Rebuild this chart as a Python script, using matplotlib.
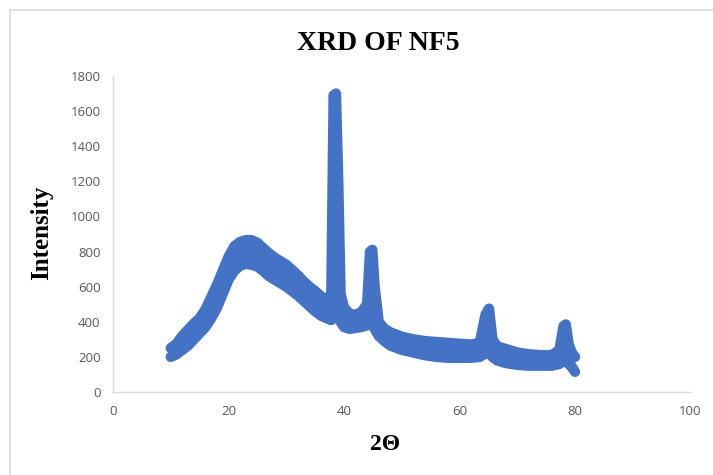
import matplotlib
matplotlib.use("Agg")
import matplotlib.pyplot as plt
from matplotlib.lines import Line2D
import numpy as np

# 2-theta scan (deg) with upper / lower edge of the noisy intensity trace
two_theta = [10, 11, 12, 13, 14, 15, 16, 17, 18, 19, 20, 21, 22, 23, 24, 25,
             26, 27, 28, 29, 30, 31, 32, 33, 34, 35, 36, 37, 37.8, 38.2, 38.6,
             39.0, 39.4, 40, 41, 42, 43, 44, 44.5, 44.9, 45.3, 46, 47, 48, 50,
             52, 54, 56, 58, 60, 62, 63.5, 64.5, 65.1, 65.7, 66.5, 68, 70, 72,
             74, 76, 77.3, 78, 78.4, 78.9, 79.5, 80]
intensity_high = [250, 275, 320, 355, 390, 420, 470, 540, 610, 690, 770, 830,
                  855, 865, 865, 850, 820, 790, 765, 745, 725, 695, 665, 630,
                  600, 575, 545, 525, 560, 1690, 1700, 1200, 560, 480, 445, 440,
                  455, 500, 800, 810, 600, 400, 360, 340, 315, 300, 290, 285,
                  280, 275, 270, 280, 440, 475, 300, 260, 245, 225, 215, 210,
                  210, 240, 375, 385, 270, 220, 200]
intensity_low = [200, 215, 240, 265, 300, 335, 370, 420, 480, 560, 640, 690,
                 720, 730, 725, 715, 690, 660, 640, 620, 600, 575, 550, 520,
                 490, 460, 435, 420, 410, 430, 470, 440, 400, 370, 360, 365,
                 370, 380, 420, 420, 360, 320, 290, 265, 240, 225, 210, 200,
                 195, 195, 195, 200, 220, 230, 200, 180, 165, 155, 150, 150,
                 150, 160, 180, 190, 160, 140, 115]

x_ticks = [0, 20, 40, 60, 80, 100]
y_ticks = [0, 200, 400, 600, 800, 1000, 1200, 1400, 1600, 1800]

blue = "#4472C4"
grey_txt = "#595959"
grey_line = "#D9D9D9"

fig = plt.figure(figsize=(7.13, 4.75), dpi=100)
ax = fig.add_axes([0.1585, 0.1747, 0.81, 0.6653])

# thick markers in the original make the trace look like a fat band
ax.fill_between(two_theta, intensity_low, intensity_high, color=blue, lw=0)
for series in (intensity_high, intensity_low):
    ax.plot(two_theta, series, color=blue, lw=7.5,
            solid_capstyle="round", solid_joinstyle="round")

ax.set_xlim(0, 100)
ax.set_ylim(0, 1800)
ax.set_xticks(x_ticks)
ax.set_yticks(y_ticks)
ax.tick_params(length=0, labelsize=9.5, labelcolor=grey_txt, pad=9)
for lab in ax.get_xticklabels() + ax.get_yticklabels():
    lab.set_family("Open Sans")

for side in ("top", "right"):
    ax.spines[side].set_visible(False)
for side in ("left", "bottom"):
    ax.spines[side].set_color(grey_line)
    ax.spines[side].set_linewidth(1.0)

serif = {"family": "Liberation Serif", "weight": "bold", "color": "black"}
fig.text(378 / 713, 1 - 44 / 475, "XRD OF NF5", fontsize=20,
         ha="center", va="center", **serif)
fig.text(42 / 713, 1 - 233 / 475, "Intensity", fontsize=18, rotation=90,
         ha="center", va="center", **serif)
fig.text(385 / 713, 1 - 445 / 475, "2Θ", fontsize=17,
         ha="center", va="center", **serif)

# chart frame border
fig.add_artist(Line2D([10 / 713, 1.0], [1 - 10 / 475, 1 - 10 / 475],
                      transform=fig.transFigure, color=grey_line, lw=1.2))
fig.add_artist(Line2D([10 / 713, 10 / 713], [0.0, 1 - 10 / 475],
                      transform=fig.transFigure, color=grey_line, lw=1.2))

fig.savefig("out.png", dpi=100)
